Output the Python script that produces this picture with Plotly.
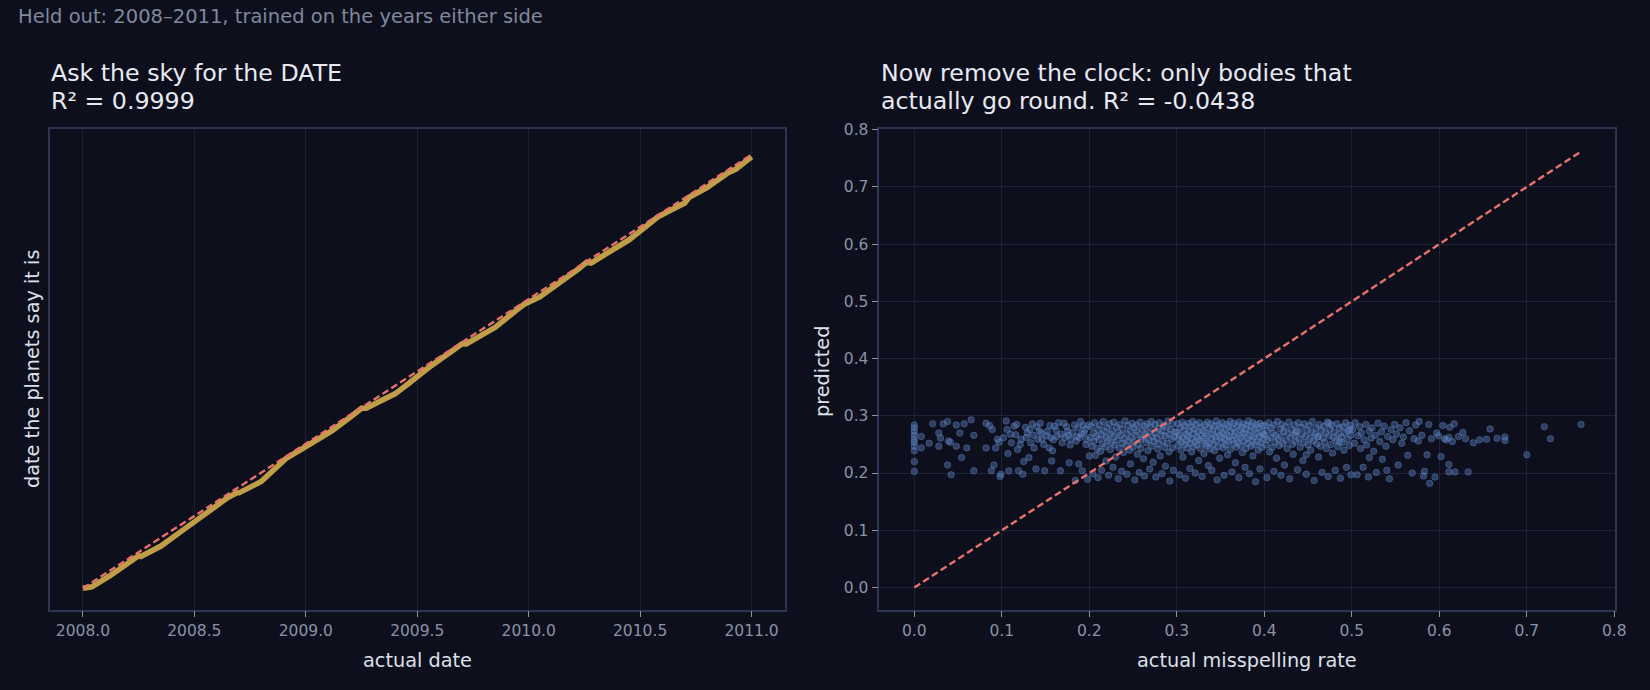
import plotly.graph_objects as go

W, H = 1650, 690

# ---------------- left panel: date predicted from the sky ----------------
actual_date = [2008.00, 2008.04, 2008.12, 2008.20, 2008.25, 2008.26, 2008.35, 2008.45, 2008.55, 2008.65,
               2008.69, 2008.70, 2008.80, 2008.86, 2008.91, 2009.00, 2009.12, 2009.20, 2009.25, 2009.27,
               2009.40, 2009.46, 2009.55, 2009.65, 2009.70, 2009.72, 2009.85, 2009.95, 2009.98, 2010.05,
               2010.15, 2010.22, 2010.26, 2010.28, 2010.45, 2010.55, 2010.58, 2010.65, 2010.70, 2010.72,
               2010.80, 2010.89, 2010.93, 2011.00]
predicted_date = [2008.000, 2008.010, 2008.085, 2008.170, 2008.225, 2008.220, 2008.292, 2008.404, 2008.518, 2008.627,
                  2008.660, 2008.660, 2008.738, 2008.825, 2008.896, 2008.980, 2009.092, 2009.185, 2009.245, 2009.245,
                  2009.345, 2009.415, 2009.525, 2009.635, 2009.690, 2009.690, 2009.805, 2009.930, 2009.965, 2010.015,
                  2010.120, 2010.205, 2010.255, 2010.250, 2010.410, 2010.535, 2010.570, 2010.625, 2010.665, 2010.705,
                  2010.772, 2010.870, 2010.900, 2010.985]
date_identity = [2008.0, 2011.0]
date_ticks = [2008.0, 2008.5, 2009.0, 2009.5, 2010.0, 2010.5, 2011.0]

# ---------------- right panel: misspelling rate ----------------
rate_zero_x = [0.0] * 10
rate_zero_y = [0.284, 0.279, 0.272, 0.266, 0.259, 0.254, 0.247, 0.239, 0.220, 0.203]

rate_low_x = [0.008, 0.008, 0.017, 0.021, 0.028, 0.028, 0.030, 0.033, 0.038, 0.038,
              0.039, 0.041, 0.042, 0.048, 0.048, 0.052, 0.054, 0.057, 0.060, 0.065,
              0.068, 0.068, 0.082, 0.082, 0.086, 0.088, 0.089, 0.091, 0.093, 0.095,
              0.097, 0.098, 0.099]
rate_low_y = [0.264, 0.244, 0.252, 0.286, 0.270, 0.247, 0.261, 0.286, 0.290, 0.214,
              0.256, 0.254, 0.197, 0.284, 0.247, 0.270, 0.227, 0.286, 0.244, 0.293,
              0.266, 0.204, 0.287, 0.244, 0.283, 0.204, 0.276, 0.214, 0.244, 0.259,
              0.254, 0.194, 0.198]

rate_b1_x = [0.105, 0.106, 0.107, 0.108, 0.111, 0.114, 0.116, 0.118, 0.119, 0.122,
             0.124, 0.125, 0.127, 0.129, 0.131, 0.133, 0.135, 0.137, 0.139, 0.141,
             0.143, 0.144, 0.146, 0.149, 0.152, 0.154, 0.157, 0.158, 0.160, 0.163,
             0.167, 0.169, 0.171, 0.175, 0.177, 0.179, 0.183, 0.184, 0.186, 0.188,
             0.190, 0.192, 0.194, 0.196, 0.198, 0.200,
             0.102, 0.110, 0.117, 0.121, 0.128, 0.132, 0.136, 0.140, 0.145, 0.148,
             0.151, 0.155, 0.159, 0.162, 0.165, 0.168, 0.172, 0.174, 0.178, 0.181,
             0.185, 0.187, 0.189, 0.191, 0.193, 0.195, 0.197, 0.199, 0.176, 0.156]
rate_b1_y = [0.291, 0.276, 0.234, 0.204, 0.253, 0.282, 0.267, 0.241, 0.204, 0.259,
             0.198, 0.220, 0.280, 0.270, 0.227, 0.253, 0.286, 0.244, 0.207, 0.259,
             0.273, 0.287, 0.259, 0.204, 0.273, 0.244, 0.221, 0.239, 0.282, 0.264,
             0.204, 0.253, 0.287, 0.273, 0.218, 0.259, 0.284, 0.187, 0.264, 0.216,
             0.290, 0.204, 0.270, 0.250, 0.189, 0.230,
             0.262, 0.268, 0.285, 0.250, 0.262, 0.276, 0.266, 0.281, 0.270, 0.250,
             0.265, 0.283, 0.258, 0.275, 0.288, 0.268, 0.262, 0.281, 0.249, 0.271,
             0.256, 0.279, 0.262, 0.268, 0.283, 0.276, 0.258, 0.284, 0.266, 0.262]

rate_b2_x = [0.201, 0.202, 0.203, 0.204, 0.205, 0.205, 0.206, 0.207, 0.208, 0.209,
             0.210, 0.210, 0.211, 0.212, 0.213, 0.214, 0.214, 0.215, 0.216, 0.217,
             0.218, 0.219, 0.219, 0.220, 0.221, 0.222, 0.223, 0.224, 0.224, 0.225,
             0.226, 0.227, 0.228, 0.228, 0.229, 0.230, 0.231, 0.232, 0.233, 0.233,
             0.234, 0.235, 0.236, 0.237, 0.238, 0.238, 0.239, 0.240, 0.241, 0.242,
             0.243, 0.243, 0.244, 0.245, 0.246, 0.247, 0.247, 0.248, 0.249, 0.250,
             0.251, 0.251, 0.252, 0.253, 0.254, 0.255, 0.255, 0.256, 0.257, 0.258,
             0.259, 0.259, 0.260, 0.261, 0.262, 0.263, 0.263, 0.264, 0.265, 0.266,
             0.267, 0.267, 0.268, 0.269, 0.270, 0.271, 0.271, 0.272, 0.273, 0.274,
             0.275, 0.275, 0.276, 0.277, 0.278, 0.279, 0.279, 0.280, 0.281, 0.282,
             0.283, 0.283, 0.284, 0.285, 0.286, 0.287, 0.287, 0.288, 0.289, 0.290,
             0.291, 0.291, 0.292, 0.293, 0.294, 0.295, 0.295, 0.296, 0.297, 0.298]
rate_b2_y = [0.262, 0.281, 0.247, 0.199, 0.270, 0.255, 0.288, 0.231, 0.264, 0.243,
             0.276, 0.192, 0.259, 0.284, 0.238, 0.267, 0.205, 0.251, 0.290, 0.273,
             0.246, 0.262, 0.221, 0.279, 0.257, 0.196, 0.286, 0.268, 0.241, 0.253,
             0.274, 0.210, 0.263, 0.289, 0.249, 0.228, 0.281, 0.258, 0.190, 0.271,
             0.244, 0.285, 0.266, 0.203, 0.252, 0.277, 0.236, 0.260, 0.291, 0.248,
             0.269, 0.198, 0.283, 0.256, 0.240, 0.274, 0.216, 0.262, 0.287, 0.245,
             0.279, 0.254, 0.188, 0.266, 0.284, 0.233, 0.272, 0.250, 0.201, 0.289,
             0.259, 0.243, 0.276, 0.263, 0.225, 0.282, 0.195, 0.268, 0.253, 0.286,
             0.239, 0.271, 0.258, 0.207, 0.280, 0.247, 0.290, 0.264, 0.219, 0.255,
             0.285, 0.270, 0.193, 0.261, 0.242, 0.278, 0.251, 0.288, 0.230, 0.267,
             0.274, 0.199, 0.256, 0.283, 0.245, 0.265, 0.212, 0.280, 0.252, 0.291,
             0.237, 0.268, 0.186, 0.276, 0.259, 0.244, 0.286, 0.205, 0.263, 0.272]

rate_b3_x = [0.300, 0.301, 0.301, 0.302, 0.303, 0.303, 0.304, 0.305, 0.305, 0.306,
             0.307, 0.307, 0.308, 0.309, 0.309, 0.310, 0.311, 0.311, 0.312, 0.313,
             0.313, 0.314, 0.315, 0.315, 0.316, 0.317, 0.317, 0.318, 0.319, 0.319,
             0.320, 0.321, 0.321, 0.322, 0.323, 0.323, 0.324, 0.325, 0.325, 0.326,
             0.327, 0.327, 0.328, 0.329, 0.329, 0.330, 0.331, 0.331, 0.332, 0.333,
             0.333, 0.334, 0.335, 0.335, 0.336, 0.337, 0.337, 0.338, 0.339, 0.339,
             0.340, 0.341, 0.341, 0.342, 0.343, 0.343, 0.344, 0.345, 0.345, 0.346,
             0.347, 0.347, 0.348, 0.349, 0.349, 0.350, 0.351, 0.351, 0.352, 0.353,
             0.353, 0.354, 0.355, 0.355, 0.356, 0.357, 0.357, 0.358, 0.359, 0.359,
             0.360, 0.361, 0.361, 0.362, 0.363, 0.363, 0.364, 0.365, 0.365, 0.366,
             0.367, 0.367, 0.368, 0.369, 0.369, 0.370, 0.371, 0.371, 0.372, 0.373,
             0.373, 0.374, 0.375, 0.375, 0.376, 0.377, 0.377, 0.378, 0.379, 0.379,
             0.380, 0.381, 0.381, 0.382, 0.383, 0.383, 0.384, 0.385, 0.385, 0.386,
             0.387, 0.387, 0.388, 0.389, 0.389, 0.390, 0.391, 0.391, 0.392, 0.393,
             0.393, 0.394, 0.395, 0.395, 0.396, 0.397, 0.397, 0.398, 0.399, 0.399]
rate_b3_y = [0.271, 0.248, 0.286, 0.259, 0.197, 0.266, 0.279, 0.240, 0.254, 0.289,
             0.262, 0.228, 0.275, 0.250, 0.283, 0.191, 0.268, 0.257, 0.244, 0.287,
             0.264, 0.273, 0.208, 0.252, 0.281, 0.260, 0.237, 0.290, 0.269, 0.246,
             0.277, 0.255, 0.200, 0.285, 0.263, 0.249, 0.272, 0.222, 0.258, 0.288,
             0.243, 0.267, 0.280, 0.194, 0.256, 0.274, 0.261, 0.234, 0.284, 0.251,
             0.270, 0.247, 0.289, 0.265, 0.213, 0.278, 0.253, 0.242, 0.286, 0.260,
             0.205, 0.275, 0.268, 0.250, 0.282, 0.239, 0.263, 0.291, 0.257, 0.188,
             0.272, 0.246, 0.284, 0.266, 0.226, 0.279, 0.254, 0.262, 0.288, 0.244,
             0.270, 0.196, 0.259, 0.276, 0.249, 0.285, 0.267, 0.232, 0.281, 0.255,
             0.264, 0.241, 0.290, 0.273, 0.202, 0.258, 0.278, 0.251, 0.287, 0.265,
             0.218, 0.271, 0.245, 0.283, 0.260, 0.253, 0.289, 0.192, 0.275, 0.262,
             0.248, 0.280, 0.268, 0.236, 0.286, 0.256, 0.270, 0.210, 0.277, 0.243,
             0.284, 0.261, 0.252, 0.291, 0.199, 0.266, 0.274, 0.247, 0.282, 0.258,
             0.230, 0.288, 0.263, 0.250, 0.276, 0.185, 0.269, 0.285, 0.255, 0.240,
             0.279, 0.264, 0.207, 0.287, 0.253, 0.272, 0.245, 0.283, 0.260, 0.268]

rate_b4_x = [0.400, 0.401, 0.402, 0.403, 0.403, 0.404, 0.405, 0.406, 0.407, 0.408,
             0.409, 0.410, 0.411, 0.411, 0.412, 0.413, 0.414, 0.415, 0.416, 0.417,
             0.418, 0.419, 0.419, 0.420, 0.421, 0.422, 0.423, 0.424, 0.425, 0.426,
             0.427, 0.428, 0.429, 0.430, 0.431, 0.432, 0.433, 0.434, 0.435, 0.436,
             0.437, 0.438, 0.439, 0.440, 0.441, 0.442, 0.443, 0.444, 0.445, 0.446,
             0.447, 0.448, 0.449, 0.450, 0.451, 0.452, 0.453, 0.454, 0.455, 0.456,
             0.457, 0.458, 0.459, 0.460, 0.461, 0.462, 0.463, 0.464, 0.465, 0.466,
             0.467, 0.468, 0.469, 0.470, 0.471, 0.472, 0.473, 0.474, 0.475, 0.476,
             0.477, 0.478, 0.479, 0.480, 0.481, 0.482, 0.483, 0.484, 0.485, 0.486,
             0.487, 0.488, 0.489, 0.490, 0.491, 0.492, 0.493, 0.494, 0.495, 0.496,
             0.497, 0.498, 0.499, 0.499, 0.498, 0.486, 0.474, 0.462, 0.448, 0.436]
rate_b4_y = [0.266, 0.283, 0.249, 0.192, 0.274, 0.258, 0.288, 0.237, 0.262, 0.279,
             0.245, 0.270, 0.203, 0.284, 0.254, 0.266, 0.226, 0.290, 0.260, 0.248,
             0.277, 0.196, 0.264, 0.285, 0.252, 0.272, 0.214, 0.281, 0.257, 0.243,
             0.269, 0.289, 0.190, 0.262, 0.276, 0.250, 0.233, 0.284, 0.266, 0.255,
             0.273, 0.206, 0.288, 0.259, 0.245, 0.280, 0.268, 0.222, 0.253, 0.286,
             0.264, 0.198, 0.275, 0.249, 0.283, 0.260, 0.240, 0.271, 0.290, 0.256,
             0.187, 0.268, 0.279, 0.251, 0.263, 0.228, 0.285, 0.247, 0.274, 0.201,
             0.261, 0.282, 0.254, 0.270, 0.243, 0.289, 0.194, 0.265, 0.277, 0.250,
             0.284, 0.235, 0.262, 0.272, 0.205, 0.257, 0.286, 0.246, 0.268, 0.279,
             0.191, 0.263, 0.253, 0.281, 0.240, 0.270, 0.288, 0.210, 0.259, 0.274,
             0.248, 0.283, 0.197, 0.266, 0.277, 0.255, 0.287, 0.264, 0.232, 0.271]

rate_b5_x = [0.501, 0.503, 0.504, 0.506, 0.507, 0.509, 0.510, 0.511, 0.513, 0.514,
             0.516, 0.517, 0.519, 0.520, 0.522, 0.523, 0.525, 0.527, 0.528, 0.530,
             0.532, 0.534, 0.535, 0.537, 0.539, 0.541, 0.543, 0.545, 0.547, 0.549,
             0.551, 0.553, 0.555, 0.557, 0.559, 0.562, 0.564, 0.566, 0.569, 0.571,
             0.573, 0.576, 0.577, 0.580, 0.582, 0.583, 0.586, 0.588, 0.589, 0.591,
             0.595, 0.597, 0.599, 0.520, 0.540]
rate_b5_y = [0.276, 0.252, 0.288, 0.197, 0.265, 0.281, 0.243, 0.270, 0.210, 0.258,
             0.285, 0.249, 0.193, 0.273, 0.261, 0.279, 0.238, 0.266, 0.201, 0.287,
             0.255, 0.272, 0.224, 0.282, 0.247, 0.264, 0.190, 0.276, 0.258, 0.285,
             0.268, 0.214, 0.279, 0.252, 0.263, 0.288, 0.231, 0.274, 0.200, 0.260,
             0.284, 0.256, 0.290, 0.266, 0.195, 0.203, 0.232, 0.285, 0.182, 0.260,
             0.193, 0.270, 0.265, 0.227, 0.205]

rate_high_x = [0.602, 0.604, 0.611, 0.611, 0.611, 0.612, 0.617, 0.618, 0.627, 0.633, 0.639,
               0.646, 0.654, 0.658, 0.666, 0.675, 0.675, 0.606, 0.622, 0.608, 0.615, 0.630,
               0.700, 0.720, 0.727, 0.762]
rate_high_y = [0.229, 0.283, 0.202, 0.215, 0.262, 0.280, 0.286, 0.202, 0.271, 0.202, 0.253,
               0.258, 0.259, 0.277, 0.261, 0.263, 0.257, 0.260, 0.264, 0.258, 0.255, 0.260,
               0.232, 0.281, 0.260, 0.285]

rate_identity = [0.0, 0.763]
rate_ticks = [0.0, 0.1, 0.2, 0.3, 0.4, 0.5, 0.6, 0.7, 0.8]

blocks = [(rate_zero_x, rate_zero_y), (rate_low_x, rate_low_y), (rate_b1_x, rate_b1_y),
          (rate_b2_x, rate_b2_y), (rate_b3_x, rate_b3_y), (rate_b4_x, rate_b4_y),
          (rate_b5_x, rate_b5_y), (rate_high_x, rate_high_y)]
actual_rate, predicted_rate = [], []
for bx, by in blocks:
    n = min(len(bx), len(by))
    actual_rate += bx[:n]
    predicted_rate += by[:n]

# ---------------- styling ----------------
BG = "#0d0f1c"
GRID = "#1c2238"
FRAME = "#2b3450"
TICK = "#8a93a6"
LABEL = "#dde0ea"
TITLE = "#e8eaf2"
FONT = "DejaVu Sans"
DASH = "#e8716c"
GOLD = "rgba(201,166,74,0.95)"

fig = go.Figure()

fig.add_trace(go.Scatter(x=actual_date, y=predicted_date, mode="lines",
                         line=dict(color=GOLD, width=5.5),
                         xaxis="x", yaxis="y", hoverinfo="skip", showlegend=False))
fig.add_trace(go.Scatter(x=date_identity, y=date_identity, mode="lines",
                         line=dict(color=DASH, width=2.4, dash="7px,3.5px"),
                         xaxis="x", yaxis="y", hoverinfo="skip", showlegend=False))

fig.add_trace(go.Scatter(x=actual_rate, y=predicted_rate, mode="markers",
                         marker=dict(size=6.5, color="rgba(92,130,192,0.42)",
                                     line=dict(width=1, color="rgba(92,130,192,0.42)")),
                         xaxis="x2", yaxis="y2", hoverinfo="skip", showlegend=False))
fig.add_trace(go.Scatter(x=rate_identity, y=rate_identity, mode="lines",
                         line=dict(color=DASH, width=2.4, dash="7px,3.5px"),
                         xaxis="x2", yaxis="y2", hoverinfo="skip", showlegend=False))

ydom = [1 - 609.5 / H, 1 - 129 / H]
axis_common = dict(showline=True, mirror=True, linecolor=FRAME, linewidth=1.5,
                   zeroline=False, gridcolor=GRID, gridwidth=1, automargin=False,
                   tickfont=dict(family=FONT, size=15.5, color=TICK),
                   tickcolor=TICK, ticklen=6, tickwidth=1.2)

fig.update_layout(
    width=W, height=H, autosize=False,
    margin=dict(l=0, r=0, t=0, b=0, pad=0),
    paper_bgcolor=BG, plot_bgcolor=BG,
    font=dict(family=FONT, color=LABEL),
    showlegend=False,
    xaxis=dict(domain=[49.5 / W, 785 / W], anchor="y", range=[2007.85, 2011.15],
               tickvals=date_ticks, ticktext=[f"{v:.1f}" for v in date_ticks],
               ticks="outside", showgrid=True, **axis_common),
    yaxis=dict(domain=ydom, anchor="x", range=[2007.853, 2011.177],
               showticklabels=False, ticks="", showgrid=False, **axis_common),
    xaxis2=dict(domain=[879.3 / W, 1615 / W], anchor="y2", range=[-0.040, 0.8008],
                tickvals=rate_ticks, ticktext=[f"{v:.1f}" for v in rate_ticks],
                ticks="outside", showgrid=True, **axis_common),
    yaxis2=dict(domain=ydom, anchor="x2", range=[-0.0384, 0.8012],
                tickvals=rate_ticks, ticktext=[f"{v:.1f}" for v in rate_ticks],
                ticks="outside", showgrid=True, **axis_common),
)


def ann(text, x, y, size, color, xanchor="left", yanchor="middle", angle=0):
    fig.add_annotation(text=text, x=x / W, y=1 - y / H, xref="paper", yref="paper",
                       showarrow=False, xanchor=xanchor, yanchor=yanchor, textangle=angle,
                       font=dict(family=FONT, size=size, color=color))


ann("Held out: 2008–2011, trained on the years either side", 16, 16, 19.5, "#7f889b")
ann("Ask the sky for the DATE", 49, 73, 23.7, TITLE)
ann("R² = 0.9999", 49, 101, 23.7, TITLE)
ann("Now remove the clock: only bodies that", 879, 73, 23.7, TITLE)
ann("actually go round. R² = -0.0438", 879, 101, 23.7, TITLE)
ann("actual date", 417, 660, 19.3, LABEL, xanchor="center")
ann("actual misspelling rate", 1247, 660, 19.3, LABEL, xanchor="center")
ann("date the planets say it is", 32, 369, 19.3, LABEL, xanchor="center", angle=-90)
ann("predicted", 822.5, 371.5, 19.3, LABEL, xanchor="center", angle=-90)

fig.write_html("out.html")
